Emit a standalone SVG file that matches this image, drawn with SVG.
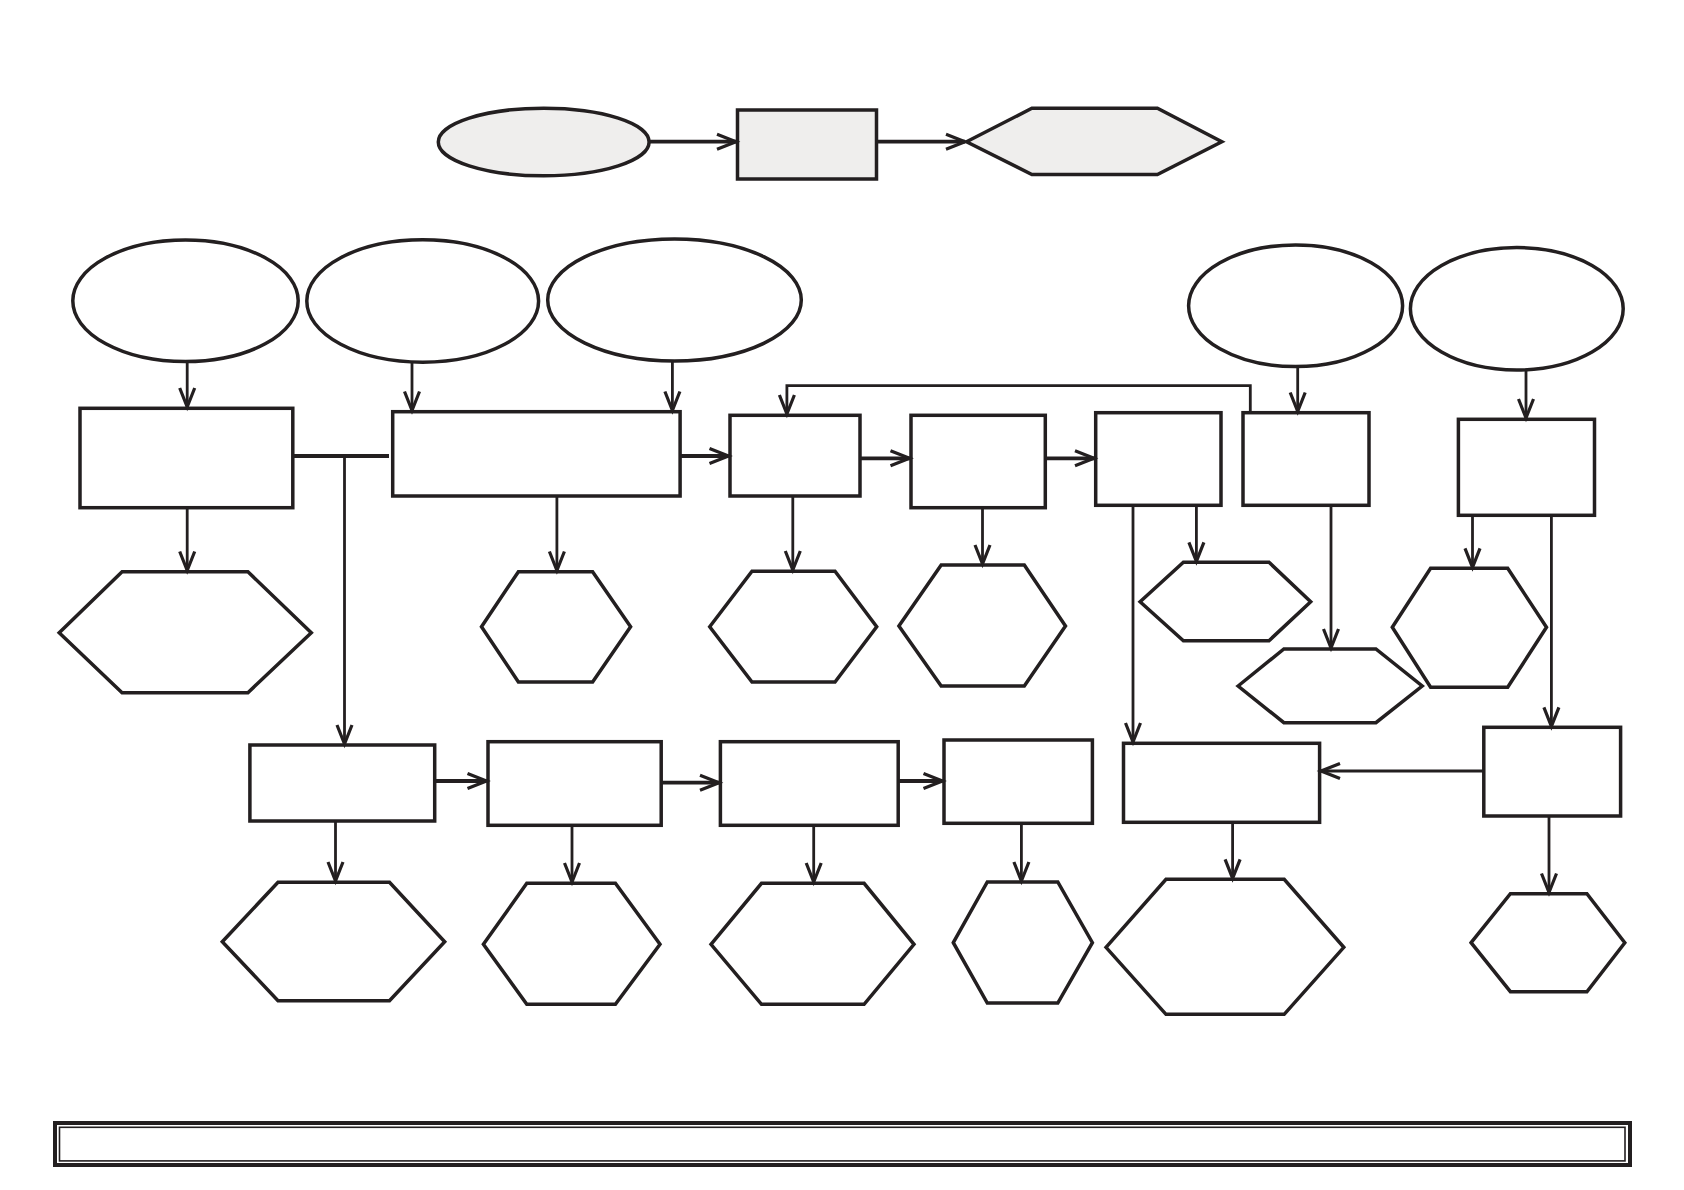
<svg xmlns="http://www.w3.org/2000/svg" width="1684" height="1190" viewBox="0 0 1684 1190">
<style>
.n{fill:#ffffff;stroke:#231f20;stroke-width:3.5}
.g{fill:#efeeed;stroke:#231f20;stroke-width:3.5}
.c{fill:none;stroke:#231f20;stroke-width:2.8}
.h{fill:none;stroke:#231f20;stroke-width:3.8}
.a{marker-end:url(#arr)}
</style>
<defs>
<marker id="arr" markerUnits="userSpaceOnUse" viewBox="-20 -10 22 20" refX="0" refY="0" markerWidth="22" markerHeight="20" orient="auto" overflow="visible">
<path d="M-19,-7.5 L0,0 L-19,7.5" fill="none" stroke="#231f20" stroke-width="3.2"/>
</marker>
</defs>
<rect width="1684" height="1190" fill="#ffffff"/>
<g id="top-ellipse"><ellipse class="g" cx="543.7" cy="142" rx="105.4" ry="33.8"/></g>
<g id="top-rect"><rect class="g" x="737.5" y="110" width="139" height="69"/></g>
<g id="top-hex"><polygon class="g" points="966.5,141.7 1031.9,108.3 1157.4,108.3 1221.8,141.7 1157.4,174.5 1031.9,174.5"/></g>
<g id="ellipse-a"><ellipse class="n" cx="185.5" cy="300.8" rx="112.7" ry="60.8"/></g>
<g id="ellipse-b"><ellipse class="n" cx="422.7" cy="301" rx="115.9" ry="61.2"/></g>
<g id="ellipse-c"><ellipse class="n" cx="674.5" cy="300" rx="126.8" ry="61"/></g>
<g id="ellipse-d"><ellipse class="n" cx="1295.6" cy="305.8" rx="107" ry="60.8"/></g>
<g id="ellipse-e"><ellipse class="n" cx="1516.8" cy="308.8" rx="106.4" ry="61.2"/></g>
<g id="rect-1"><rect class="n" x="80" y="408.3" width="212.8" height="99.4"/></g>
<g id="rect-2"><rect class="n" x="392.7" y="411.7" width="287.4" height="84.3"/></g>
<g id="rect-3"><rect class="n" x="730" y="415.3" width="130" height="80.7"/></g>
<g id="rect-4"><rect class="n" x="911" y="415.3" width="134.3" height="92.4"/></g>
<g id="rect-5"><rect class="n" x="1095.7" y="412.7" width="125.3" height="92.6"/></g>
<g id="rect-6"><rect class="n" x="1243" y="412.7" width="126" height="92.6"/></g>
<g id="rect-7"><rect class="n" x="1458.4" y="419.3" width="136.1" height="96"/></g>
<g id="hex-a"><polygon class="n" points="59.2,632.7 122.1,571.7 247.9,571.7 311.3,632.7 247.9,692.7 122.1,692.7"/></g>
<g id="hex-b"><polygon class="n" points="481.5,626.7 518.4,571.7 592.6,571.7 630.6,626.7 592.6,682 518.4,682"/></g>
<g id="hex-c"><polygon class="n" points="709.7,626.7 752,571.3 835,571.3 876.7,626.7 835,682 752,682"/></g>
<g id="hex-d"><polygon class="n" points="898.9,626 941.2,565 1024.3,565 1065.5,626 1024.3,686 941.2,686"/></g>
<g id="hex-e"><polygon class="n" points="1140.1,601.7 1183.4,562.3 1269,562.3 1310.7,601.7 1269,640.7 1183.4,640.7"/></g>
<g id="hex-f"><polygon class="n" points="1238.1,686 1283.9,649 1375.9,649 1422.2,686 1375.9,722.7 1283.9,722.7"/></g>
<g id="hex-g"><polygon class="n" points="1392.3,627.3 1430.6,568.3 1507.7,568.3 1546.5,627.3 1507.7,687.3 1430.6,687.3"/></g>
<g id="brect-1"><rect class="n" x="249.9" y="745" width="184.8" height="76"/></g>
<g id="brect-2"><rect class="n" x="488" y="741.7" width="173.2" height="83.6"/></g>
<g id="brect-3"><rect class="n" x="720.4" y="741.7" width="177.8" height="83.6"/></g>
<g id="brect-4"><rect class="n" x="944" y="740" width="148.4" height="83.3"/></g>
<g id="brect-5"><rect class="n" x="1123.5" y="743.3" width="196.1" height="79"/></g>
<g id="brect-6"><rect class="n" x="1483.8" y="727.3" width="136.8" height="88.7"/></g>
<g id="bhex-1"><polygon class="n" points="222.3,941.7 278,882.3 389.5,882.3 444.7,941.7 389.5,1000.7 278,1000.7"/></g>
<g id="bhex-2"><polygon class="n" points="483.4,944.3 526.8,883.3 615.4,883.3 660,944.3 615.4,1004.3 526.8,1004.3"/></g>
<g id="bhex-3"><polygon class="n" points="711,944.3 761.5,883.3 864.1,883.3 914,944.3 864.1,1004.3 761.5,1004.3"/></g>
<g id="bhex-4"><polygon class="n" points="953.3,942.7 987.3,882 1057.8,882 1092.4,942.7 1057.8,1003 987.3,1003"/></g>
<g id="bhex-5"><polygon class="n" points="1106,947.3 1166,879.3 1284.2,879.3 1343.8,947.3 1284.2,1014.3 1166,1014.3"/></g>
<g id="bhex-6"><polygon class="n" points="1471.1,942.7 1510.4,893.7 1586.9,893.7 1624.8,942.7 1586.9,991.7 1510.4,991.7"/></g>
<g id="footer">
<rect x="55" y="1123" width="1575" height="42" fill="#ffffff" stroke="#231f20" stroke-width="4"/>
<rect x="59.5" y="1127.3" width="1565.5" height="33.6" fill="none" stroke="#231f20" stroke-width="1.6"/>
</g>
<g id="connectors">
<line class="h a" x1="649" y1="141.7" x2="736" y2="141.7"/>
<line class="h a" x1="876.6" y1="141.7" x2="965" y2="141.7"/>
<line class="c a" x1="187.2" y1="362" x2="187.2" y2="407"/>
<line class="c a" x1="412" y1="362.5" x2="412" y2="410.5"/>
<line class="c a" x1="672.4" y1="361" x2="672.4" y2="410.5"/>
<line class="h" x1="292.8" y1="456" x2="389" y2="456"/>
<line class="c a" x1="344.5" y1="456" x2="344.5" y2="744"/>
<line class="h a" x1="680" y1="456" x2="728.5" y2="456"/>
<line class="h a" x1="860" y1="458.3" x2="909.5" y2="458.3"/>
<line class="h a" x1="1045.3" y1="458.3" x2="1094" y2="458.3"/>
<path class="c a" d="M1250.3,412.7 V385.7 H786.9 V414"/>
<line class="c a" x1="1297.7" y1="366.7" x2="1297.7" y2="411.5"/>
<line class="c a" x1="1526" y1="370" x2="1526" y2="418"/>
<line class="c a" x1="187.2" y1="508" x2="187.2" y2="570.5"/>
<line class="c a" x1="556.9" y1="496" x2="556.9" y2="570.5"/>
<line class="c a" x1="792.8" y1="496" x2="792.8" y2="570"/>
<line class="c a" x1="982.5" y1="507.7" x2="982.5" y2="564"/>
<line class="c a" x1="1196.4" y1="505.3" x2="1196.4" y2="561.3"/>
<line class="c a" x1="1133" y1="505.3" x2="1133" y2="742"/>
<line class="c a" x1="1331" y1="505.3" x2="1331" y2="648"/>
<line class="c a" x1="1472.5" y1="515.3" x2="1472.5" y2="567.3"/>
<line class="c a" x1="1551.4" y1="515.3" x2="1551.4" y2="726.3"/>
<line class="h a" x1="434.7" y1="781" x2="486.5" y2="781"/>
<line class="h a" x1="661.2" y1="782.7" x2="719" y2="782.7"/>
<line class="h a" x1="898.2" y1="781" x2="942.5" y2="781"/>
<line class="c a" x1="1483.8" y1="771" x2="1321" y2="771"/>
<line class="c a" x1="335.5" y1="821" x2="335.5" y2="881"/>
<line class="c a" x1="572" y1="825.3" x2="572" y2="882"/>
<line class="c a" x1="813.7" y1="825.3" x2="813.7" y2="882"/>
<line class="c a" x1="1021.4" y1="823.3" x2="1021.4" y2="881"/>
<line class="c a" x1="1232.6" y1="822.3" x2="1232.6" y2="878.3"/>
<line class="c a" x1="1549" y1="816" x2="1549" y2="892.5"/>
</g>
</svg>
